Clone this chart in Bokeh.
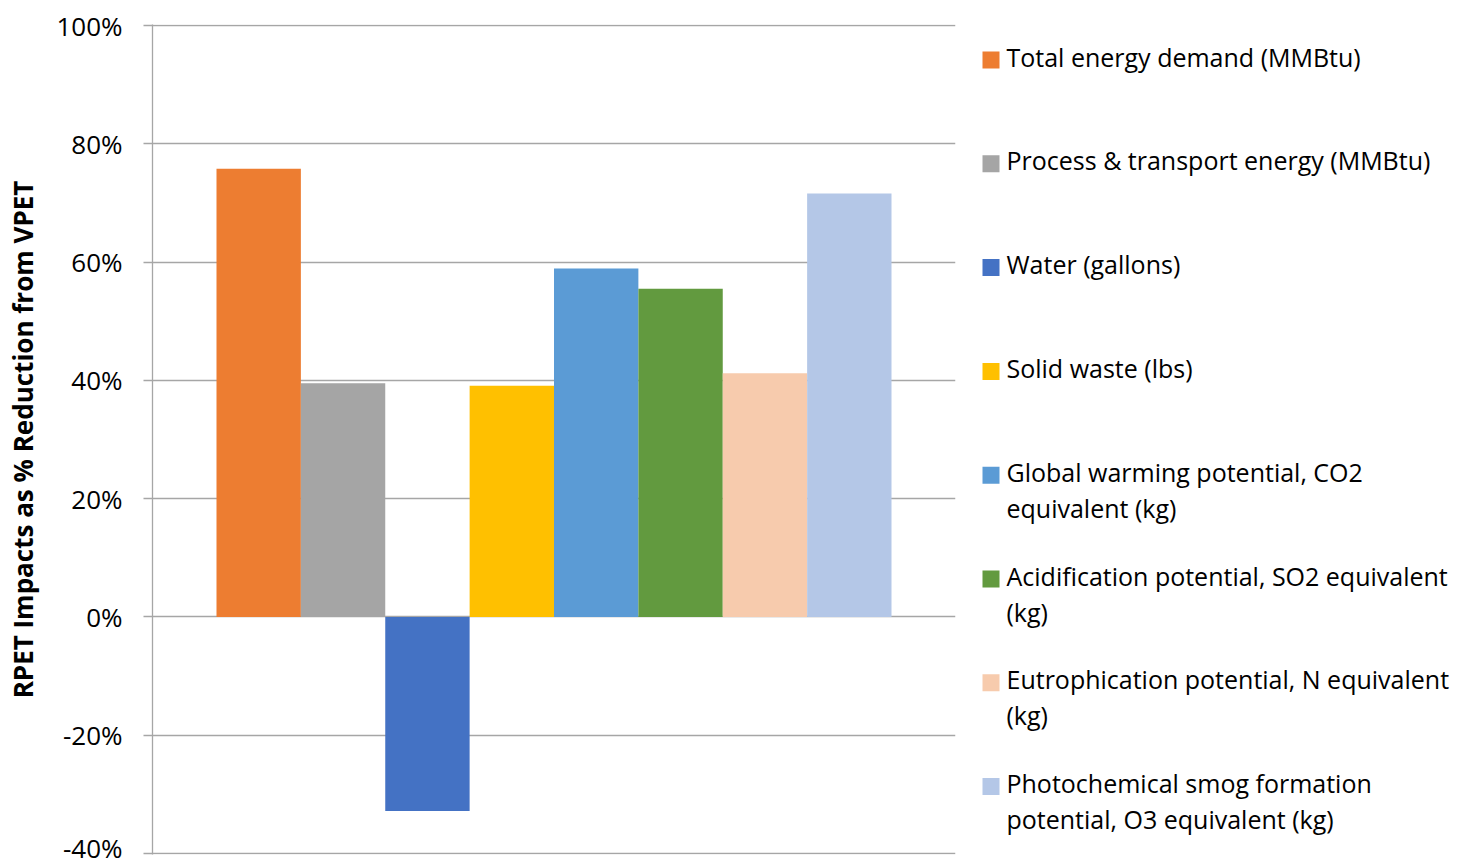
from bokeh.plotting import figure
from bokeh.models import Range1d, FixedTicker, PrintfTickFormatter, ColumnDataSource
from bokeh.layouts import row
from bokeh.core.properties import value
from bokeh.embed import file_html
from bokeh.resources import INLINE

series = [
    "Total energy demand (MMBtu)",
    "Process & transport energy (MMBtu)",
    "Water (gallons)",
    "Solid waste (lbs)",
    "Global warming potential, CO2\nequivalent (kg)",
    "Acidification potential, SO2 equivalent\n(kg)",
    "Eutrophication potential, N equivalent\n(kg)",
    "Photochemical smog formation\npotential, O3 equivalent (kg)",
]
reduction_pct = [75.8, 39.5, -32.8, 39.1, 58.9, 55.5, 41.2, 71.6]
colors = ["#ED7D31", "#A5A5A5", "#4472C4", "#FFC000", "#5B9BD5", "#629A3F", "#F7CBAD", "#B4C7E7"]
y_ticks = [-40, -20, 0, 20, 40, 60, 80, 100]

FONT = "Open Sans"

src = ColumnDataSource(dict(x=list(range(len(series))), top=reduction_pct, color=colors))

margin = 0.7585
pad = 0.17
p = figure(width=965, height=865, output_backend="svg", toolbar_location=None,
           x_range=Range1d(-0.5 - margin, len(series) - 0.5 + margin),
           y_range=Range1d(-40 - pad, 100 + pad),
           min_border_left=152, min_border_right=10, min_border_top=24, min_border_bottom=11)
p.vbar(x="x", top="top", bottom=0, width=1.0, color="color", line_color=None, source=src)

p.xaxis.visible = False
p.xgrid.visible = False
p.ygrid.ticker = FixedTicker(ticks=y_ticks)
p.ygrid.grid_line_color = "#A6A6A6"
p.ygrid.grid_line_width = 1.3
p.outline_line_color = None

ax = p.yaxis[0]
ax.ticker = FixedTicker(ticks=y_ticks)
ax.formatter = PrintfTickFormatter(format="%d%%")
ax.axis_line_color = "#A6A6A6"
ax.axis_line_width = 1.3
ax.major_tick_line_color = "#A6A6A6"
ax.major_tick_line_width = 1.3
ax.major_tick_out = 9
ax.major_tick_in = 0
ax.minor_tick_line_color = None
ax.major_label_standoff = 21
ax.major_label_text_font = FONT
ax.major_label_text_font_size = "26px"
ax.major_label_text_color = "#000000"
ax.axis_label = "RPET Impacts as % Reduction from VPET"
ax.axis_label_text_font = FONT
ax.axis_label_text_font_size = "26px"
ax.axis_label_text_font_style = "bold"
ax.axis_label_text_color = "#000000"
ax.axis_label_standoff = 12

# Legend panel (coordinates in page pixels)
leg = figure(width=507, height=865, output_backend="svg", toolbar_location=None,
             x_range=Range1d(0, 507), y_range=Range1d(865 - 11, 24),
             min_border_left=0, min_border_right=0, min_border_top=24, min_border_bottom=11)
leg.axis.visible = False
leg.grid.visible = False
leg.outline_line_color = None

sq_x, sq_y, tx, ty, tt = [], [], [], [], []
for i, name in enumerate(series):
    y0 = 56 + i * 103.8
    sq_x.append(25.5)
    sq_y.append(y0 + 3.5)
    for j, line in enumerate(name.split("\n")):
        tx.append(41)
        ty.append(y0 + j * 36)
        tt.append(line)
leg.rect(x=sq_x, y=sq_y, width=17, height=17, width_units="screen", height_units="screen",
         color=colors, line_color=None)
leg.text(x=tx, y=ty, text=tt, text_font=value(FONT), text_font_size="25px",
         text_baseline="middle", text_align="left", text_color="#000000")

layout = row(p, leg, spacing=0)
open("out.html", "w").write(file_html(layout, INLINE))
